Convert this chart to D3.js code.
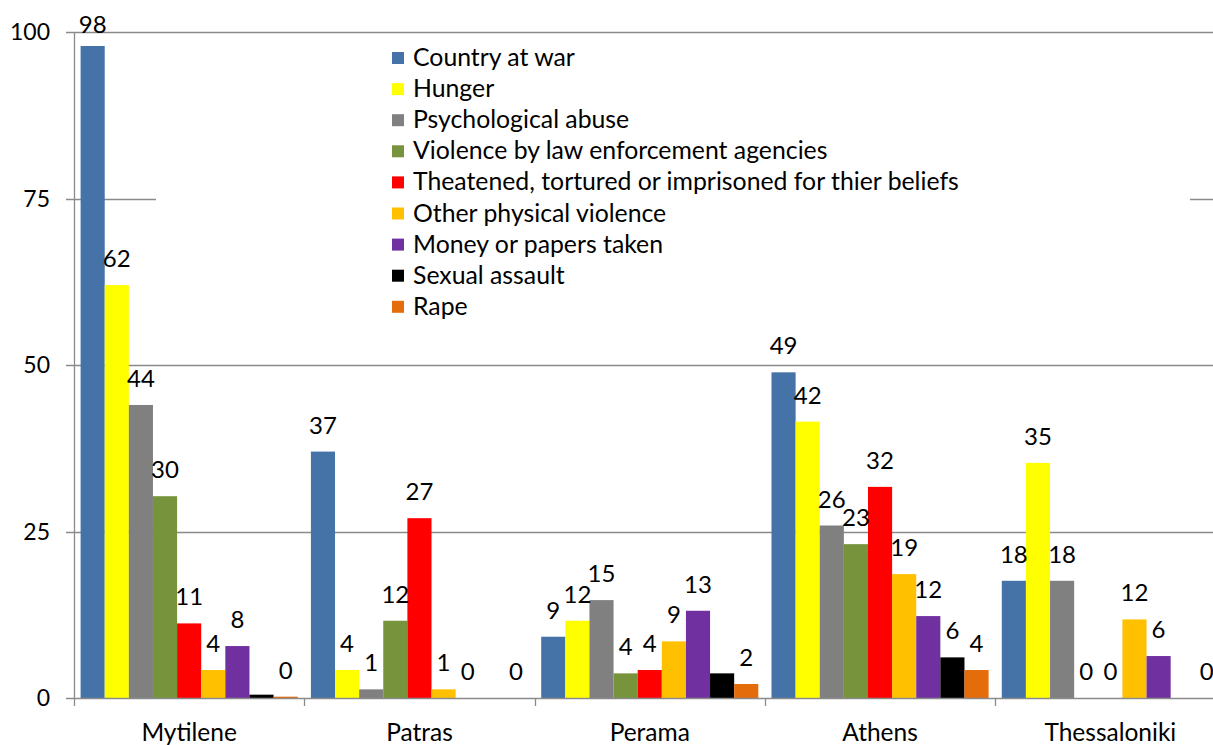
<!DOCTYPE html>
<html>
<head>
<meta charset="utf-8">
<script src="https://d3js.org/d3.v7.min.js"></script>
<style>
  body { margin: 0; background: #fff; }
  text { font-family: Lato, "Open Sans", sans-serif; fill: #000; }
</style>
</head>
<body>
<div id="chart-holder"></div>
<script>
// data
var cities = ["Mytilene", "Patras", "Perama", "Athens", "Thessaloniki"];
var seriesNames = ["Country at war", "Hunger", "Psychological abuse",
  "Violence by law enforcement agencies",
  "Theatened, tortured or imprisoned for thier beliefs",
  "Other physical violence", "Money or papers taken", "Sexual assault", "Rape"];
var seriesColors = ["#4573A7", "#FFFF00", "#808080", "#77933C", "#FF0000",
  "#FFC000", "#7030A0", "#000000", "#E46C0A"];

// one value per series, in the order of seriesNames
var mytilene     = [97.9, 62, 44, 30.3, 11.2, 4.2, 7.8, 0.5, 0.2];
var patras       = [37, 4.2, 1.3, 11.6, 27, 1.3, 0, 0, 0];
var perama       = [9.2, 11.6, 14.7, 3.7, 4.2, 8.5, 13.1, 3.7, 2.1];
var athens       = [48.9, 41.5, 25.9, 23.1, 31.7, 18.6, 12.3, 6.1, 4.2];
var thessaloniki = [17.6, 35.3, 17.6, 0, 0, 11.8, 6.3, 0, 0];
var values = [mytilene, patras, perama, athens, thessaloniki];

// data labels as printed ("" where the chart shows none)
var labels = [
  ["98", "62", "44", "30", "11", "4", "8", "", "0"],
  ["37", "4", "1", "12", "27", "1", "0", "", "0"],
  ["9", "12", "15", "4", "4", "9", "13", "", "2"],
  ["49", "42", "26", "23", "32", "19", "12", "6", "4"],
  ["18", "35", "18", "0", "0", "12", "6", "", "0"]
];
var yTicks = [0, 25, 50, 75, 100];

drawChart();

function drawChart() {
  var width = 1213, height = 745;
  var plotLeft = 74, plotBottom = 698, plotTop = 32;
  var gridColor = "#8a8a8a";

  var svg = d3.select("#chart-holder").append("svg")
    .attr("width", width)
    .attr("height", height);

  var y = d3.scaleLinear().domain([0, 100]).range([plotBottom, plotTop]);

  var x0 = d3.scaleBand()
    .domain(cities)
    .range([plotLeft, 1225.5]);

  var x1 = d3.scaleBand()
    .domain(d3.range(seriesNames.length))
    .range([6.6, x0.bandwidth() - 6.6]);

  // gridlines
  svg.append("g")
    .selectAll("line")
    .data(yTicks.filter(d => d > 0))
    .enter()
    .append("line")
    .attr("x1", plotLeft - 8)
    .attr("x2", width)
    .attr("y1", d => Math.round(y(d)) + 0.5)
    .attr("y2", d => Math.round(y(d)) + 0.5)
    .style("stroke", gridColor)
    .style("stroke-width", 1.3);

  // legend background hides part of the gridlines
  svg.append("rect")
    .attr("x", 156)
    .attr("y", 40)
    .attr("width", 1034)
    .attr("height", 290)
    .style("fill", "#fff");

  // bars
  var groups = svg.append("g")
    .selectAll("g")
    .data(cities)
    .enter()
    .append("g")
    .attr("transform", d => "translate(" + x0(d) + ",0)");

  groups.selectAll("rect")
    .data((d, i) => values[i].map((v, j) => ({ v: v, s: j })))
    .enter()
    .append("rect")
    .attr("x", d => x1(d.s))
    .attr("width", x1.bandwidth())
    .attr("y", d => y(d.v))
    .attr("height", d => plotBottom - y(d.v))
    .style("fill", d => seriesColors[d.s]);

  // value labels
  groups.selectAll("text")
    .data((d, i) => labels[i].map((t, j) => ({ t: t, v: values[i][j], s: j })))
    .enter()
    .append("text")
    .attr("x", d => x1(d.s) + x1.bandwidth() / 2)
    .attr("y", d => Math.max(y(d.v) - 18, 33))
    .attr("text-anchor", "middle")
    .style("font-size", "24px")
    .text(d => d.t);

  // y axis
  svg.append("line")
    .attr("x1", plotLeft + 0.5).attr("x2", plotLeft + 0.5)
    .attr("y1", plotTop).attr("y2", plotBottom + 8)
    .style("stroke", gridColor)
    .style("stroke-width", 1.3);

  svg.append("g")
    .selectAll("text")
    .data(yTicks)
    .enter()
    .append("text")
    .attr("x", 50)
    .attr("y", d => y(d) + 8)
    .attr("text-anchor", "end")
    .style("font-size", "23px")
    .text(d => d);

  svg.append("line")
    .attr("x1", plotLeft - 8).attr("x2", width)
    .attr("y1", plotBottom + 0.5).attr("y2", plotBottom + 0.5)
    .style("stroke", gridColor)
    .style("stroke-width", 1.3);

  // x ticks at category boundaries
  svg.append("g")
    .selectAll("line")
    .data(cities.slice(1))
    .enter()
    .append("line")
    .attr("x1", d => Math.round(x0(d)) + 0.5)
    .attr("x2", d => Math.round(x0(d)) + 0.5)
    .attr("y1", plotBottom)
    .attr("y2", plotBottom + 8)
    .style("stroke", gridColor)
    .style("stroke-width", 1.3);

  svg.append("g")
    .selectAll("text")
    .data(cities)
    .enter()
    .append("text")
    .attr("x", d => x0(d) + x0.bandwidth() / 2)
    .attr("y", 741)
    .attr("text-anchor", "middle")
    .style("font-size", "24.5px")
    .text(d => d);

  // legend
  var legend = svg.append("g")
    .selectAll("g")
    .data(seriesNames)
    .enter()
    .append("g")
    .attr("transform", (d, i) => "translate(392," + (58 + i * 31.1) + ")");

  legend.append("rect")
    .attr("x", 0)
    .attr("y", -6)
    .attr("width", 12)
    .attr("height", 12)
    .style("fill", (d, i) => seriesColors[i]);

  legend.append("text")
    .attr("x", 21)
    .attr("y", 8)
    .style("font-size", "24.8px")
    .text(d => d);
}
</script>
</body>
</html>
